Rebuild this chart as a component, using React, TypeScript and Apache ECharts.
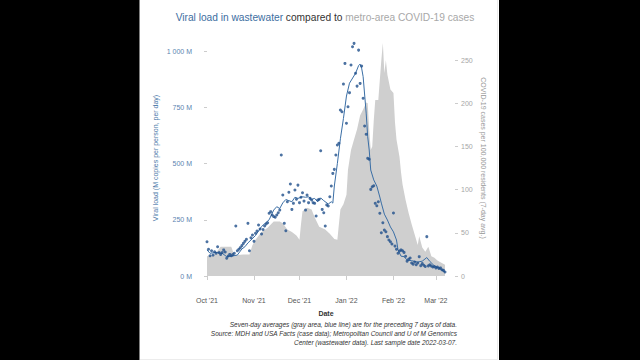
import React, { useEffect, useRef } from "react";
import * as echarts from "echarts";

// x axis: days since 2021-10-01
const monthTickDays = [0, 31, 61, 92, 123, 151];
const monthTickLabels = ["Oct '21", "Nov '21", "Dec '21", "Jan '22", "Feb '22", "Mar '22"];
const leftTicks = [0, 250, 500, 750, 1000];
const rightTicks = [0, 50, 100, 150, 200, 250];

// COVID-19 cases per 100,000 residents (7-day avg), gray area (right axis)
const caseDays = [0, 5, 9, 16, 18, 24, 28, 30, 32, 36, 40, 44, 48, 50, 53, 56, 59, 61, 62, 63, 66, 69, 71, 74, 78, 81, 84, 86, 87, 88, 90, 92, 93, 95, 97, 99, 101, 103, 105, 106, 107, 108, 109, 110, 111, 113, 114, 115, 116, 117, 118, 119, 121, 123, 124, 125, 127, 128, 129, 131, 133, 135, 138, 139, 140, 142, 144, 146, 148, 150, 152, 154, 157];
const caseValues = [23, 25, 34, 34, 24, 25, 25, 36, 42, 51, 56, 63, 63, 61, 54, 51, 47, 42, 60, 75, 79, 77, 68, 57, 54, 49, 43, 42, 60, 77, 83, 94, 123, 146, 158, 170, 186, 193, 201, 200, 170, 146, 150, 180, 204, 204, 227, 250, 270, 235, 250, 233, 216, 212, 178, 158, 138, 120, 106, 88, 73, 60, 42, 36, 46, 33, 28, 34, 23, 21, 18, 16, 13];

// Viral load samples (M copies per person per day), one per day from day 0
const sampleValues = [
  152, 119, 90, 112, 93, 108, 101, 130, 104, 96, 104, 116, 107, 79, 89, 96, 90, 95, 101, 222,
  112, 119, 126, 135, 145, 154, 163, 234, 112, 170, 182, 154, 190, 200, 227, 209, 187, 207, 222, 231,
  237, 279, 286, 271, 264, 261, 271, 281, 293, 538, 360, 234, 201, 330, 372, 409, 296, 323, 382, 341,
  404, 326, 350, 370, 333, 293, 360, 326, 345, 338, 326, 323, 267, 338, 341, 557, 296, 281, 222, 316,
  311, 352, 400, 456, 474, 538, 582, 590, 738, 730, 853, 945, 679, 752, 815, 938, 1019, 1034, 901, 844,
  1004, 856, 933, 790, 667, 630, 523, 519, 385, 397, 401, 323, 312, 330, 279, 192, 237, 204, 197, 175,
  160, 152, 142, 280, 133, 119, 101, 111, 116, 112, 105, 88, 66, 74, 80, 58, 52, 62, 50, 58,
  86, 46, 55, 48, 42, 175, 45, 50, 44, 40, 42, 36, 40, 33, 36, 28, 25, 18
];

// Seven-day average viral load (blue line)
const avgDays = [0, 2, 6, 10, 13, 16, 20, 23, 25, 27, 32, 36, 41, 44, 46, 48, 50, 52, 54, 56, 58, 60, 63, 65, 67, 69, 71, 73, 75, 77, 80, 82, 83, 84, 86, 88, 90, 92, 94, 98, 100, 101, 102, 103, 105, 106, 107, 108, 110, 112, 114, 115, 117, 119, 121, 123, 125, 126, 128, 130, 132, 135, 139, 142, 145, 147, 150, 153, 157];
const avgValues = [116, 101, 105, 101, 86, 88, 93, 120, 130, 147, 180, 220, 250, 293, 308, 300, 325, 340, 335, 330, 350, 345, 352, 350, 352, 341, 345, 330, 347, 335, 320, 330, 324, 400, 500, 610, 700, 800, 857, 901, 935, 942, 924, 886, 724, 619, 560, 471, 427, 400, 351, 324, 275, 249, 218, 196, 160, 116, 88, 86, 71, 68, 62, 66, 82, 65, 45, 35, 18];

const FONT = "'Liberation Sans', Arial, sans-serif";

const footnoteLines = [
  "Seven-day averages (gray area, blue line) are for the preceding 7 days of data.",
  "Source: MDH and USA Facts (case data); Metropolitan Council and U of M Genomics",
  "Center (wastewater data). Last sample date 2022-03-07.",
];

export default function App() {
  const ref = useRef<HTMLDivElement>(null);
  useEffect(() => {
    if (!ref.current) return;
    const chart = echarts.init(ref.current, null, { renderer: "svg" });
    const option: any = {
      animation: false,
      backgroundColor: "#ffffff",
      textStyle: { fontFamily: FONT },
      grid: { left: 207, right: 195, top: 40, bottom: 84, containLabel: false },
      xAxis: {
        type: "value",
        min: 0,
        max: 157,
        offset: 14,
        axisLine: { show: false },
        splitLine: { show: false },
        axisTick: { show: true, length: 4, customValues: monthTickDays, lineStyle: { color: "#cccccc" } },
        axisLabel: {
          customValues: monthTickDays,
          formatter: (v: number) => {
            const i = monthTickDays.indexOf(v);
            return i >= 0 ? monthTickLabels[i] : "";
          },
          fontSize: 7,
          color: "#555555",
          margin: 7,
          fontFamily: FONT,
        },
        name: "Date",
        nameLocation: "middle",
        nameGap: 20,
        nameTextStyle: { fontSize: 7, fontWeight: "bold", color: "#333333", fontFamily: FONT },
      },
      yAxis: [
        {
          type: "value",
          position: "left",
          min: 0,
          max: 1049,
          offset: 10,
          axisLine: { show: false },
          splitLine: { show: false },
          axisTick: { show: true, length: 3, customValues: leftTicks, lineStyle: { color: "#cccccc" } },
          axisLabel: {
            customValues: leftTicks,
            formatter: (v: number) => (v === 1000 ? "1 000 M" : `${v} M`),
            fontSize: 7,
            color: "#5b84b1",
            margin: 5,
            fontFamily: FONT,
          },
          name: "Viral load (M copies per person, per day)",
          nameLocation: "middle",
          nameGap: 38,
          nameRotate: 90,
          nameTextStyle: { fontSize: 7, color: "#4a78a8", fontFamily: FONT },
        },
        {
          type: "value",
          position: "right",
          min: 0,
          max: 273.4,
          offset: 10,
          axisLine: { show: false },
          splitLine: { show: false },
          axisTick: { show: true, length: 3, customValues: rightTicks, lineStyle: { color: "#cccccc" } },
          axisLabel: {
            customValues: rightTicks,
            fontSize: 7,
            color: "#a6a6a6",
            margin: 6,
            fontFamily: FONT,
          },
          name: "COVID-19 cases per 100,000 residents (7-day avg.)",
          nameLocation: "middle",
          nameGap: 25,
          nameRotate: -90,
          nameTextStyle: { fontSize: 7, color: "#999999", fontFamily: FONT },
        },
      ],
      series: [
        {
          type: "line",
          yAxisIndex: 1,
          data: caseDays.map((d, i) => [d, caseValues[i]]),
          symbol: "none",
          lineStyle: { width: 0 },
          areaStyle: { color: "#cfcfcf", opacity: 1 },
          z: 1,
        },
        {
          type: "line",
          yAxisIndex: 0,
          data: avgDays.map((d, i) => [d, avgValues[i]]),
          symbol: "none",
          lineStyle: { color: "#3a6ea5", width: 1 },
          z: 3,
        },
        {
          type: "scatter",
          yAxisIndex: 0,
          data: sampleValues.map((v, i) => [i, v]),
          symbolSize: 3,
          itemStyle: { color: "#1f4f8b" },
          z: 4,
        },
      ],
      graphic: [
        {
          type: "text",
          x: 325,
          y: 17,
          style: {
            text: "{a|Viral load in wastewater} {b|compared to} {c|metro-area COVID-19 cases}",
            fontSize: 10.2,
            fontFamily: FONT,
            fill: "#333333",
            textAlign: "center",
            textVerticalAlign: "middle",
            rich: {
              a: { fill: "#3d6e9f", fontSize: 10.2, fontFamily: FONT },
              b: { fill: "#333333", fontSize: 10.2, fontFamily: FONT },
              c: { fill: "#a8a8a8", fontSize: 10.2, fontFamily: FONT },
            },
          },
        },
        ...footnoteLines.map((t, i) => ({
          type: "text",
          x: 457,
          y: 324 + i * 9,
          style: {
            text: t,
            fontSize: 6.5,
            fontStyle: "italic",
            fontFamily: FONT,
            fill: "#333333",
            textAlign: "right",
            textVerticalAlign: "middle",
          },
        })),
        { type: "line", shape: { x1: 497.5, y1: 0, x2: 497.5, y2: 360 }, style: { stroke: "#ececec", lineWidth: 1 } },
        { type: "line", shape: { x1: 140, y1: 359.5, x2: 498, y2: 359.5 }, style: { stroke: "#ececec", lineWidth: 1 } },
        { type: "rect", shape: { x: 0, y: 0, width: 139.5, height: 360 }, style: { fill: "#000000" }, z: 100 },
        { type: "rect", shape: { x: 499, y: 0, width: 141, height: 360 }, style: { fill: "#000000" }, z: 100 },
      ],
    };
    chart.setOption(option);
    return () => chart.dispose();
  }, []);
  return (
    <div
      ref={ref}
      style={{ position: "fixed", left: 0, top: 0, width: 640, height: 360, background: "#fff" }}
    />
  );
}
